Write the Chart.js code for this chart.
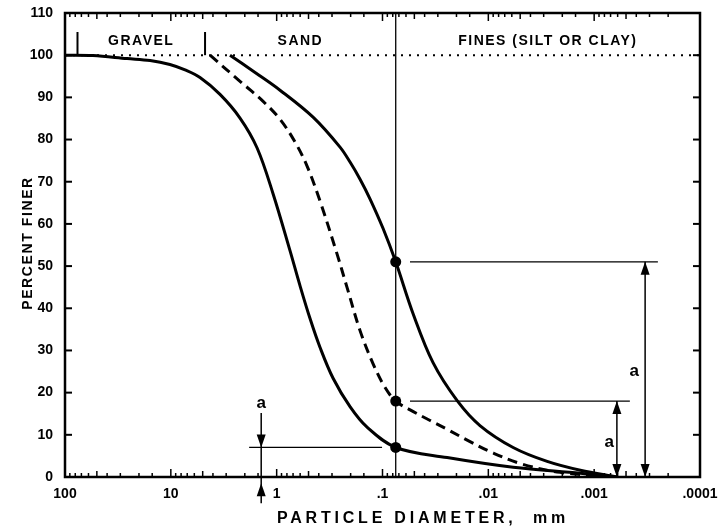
<!DOCTYPE html>
<html>
<head>
<meta charset="utf-8">
<script src="https://cdn.jsdelivr.net/npm/chart.js@4.4.1/dist/chart.umd.min.js"></script>
<style>
  html, body { margin: 0; padding: 0; background: #fff; }
  canvas { display: block; }
</style>
</head>
<body>
<canvas id="chart1" width="720" height="529"></canvas>
<script>
// gradation curves: particle diameter (mm) against percent finer
const coarseDiam = [100, 54.4, 25.9, 15.7, 10.2, 7.34, 5.3, 3.43, 2.22, 1.53, 1.08, 0.747, 0.601, 0.483, 0.389, 0.293, 0.202, 0.14, 0.075, 0.0245, 0.00583, 0.00135, 0.00061];
const coarseFiner = [100, 99.9, 99.2, 98.75, 97.8, 96.5, 94.7, 90.7, 85.1, 78, 67.1, 53.6, 45.3, 37.5, 30.7, 23.4, 16.6, 11.8, 7, 4.6, 2.3, 0.9, 0];
const midDiam = [4.26, 2.22, 1.35, 0.929, 0.67, 0.516, 0.389, 0.269, 0.216, 0.163, 0.123, 0.0945, 0.075, 0.0548, 0.0355, 0.0245, 0.0149, 0.0096, 0.005, 0.0021, 0.00061];
const midFiner = [100, 93.8, 89.1, 84.8, 79.4, 73.7, 65.4, 52.9, 44.9, 34.7, 26.9, 21.2, 18, 15.9, 13.4, 11.3, 8.4, 6, 3.2, 1.1, 0];
const fineDiam = [2.76, 1.6, 0.93, 0.453, 0.252, 0.202, 0.163, 0.131, 0.0987, 0.075, 0.0514, 0.0333, 0.0197, 0.012, 0.00583, 0.00278, 0.00135, 0.00061];
const fineFiner = [100, 95.9, 91.7, 85.3, 78.2, 74.6, 70.6, 65.9, 58.9, 51, 38.7, 27.1, 18.1, 12.2, 7, 3.7, 1.6, 0];

// No. 200 sieve and the percent passing it for each curve
const sieveDiam = 0.075;
const sieveFiner = [51, 18, 7];

const xTickValues = [100, 10, 1, 0.1, 0.01, 0.001, 0.0001];
const xTickLabels = ['100', '10', '1', '.1', '.01', '.001', '.0001'];

// soil bands across the top
const bandNames = ['GRAVEL', 'SAND', 'FINES (SILT OR CLAY)'];
const bandEdges = [76.2, 4.75, 0.075, 0.0001];

// dimension lines marking "a"
const guideFiner = [51, 18, 7];
const guideFrom = [0.055, 0.055, 1.82];
const guideTo = [0.00025, 0.00046, 0.101];
const arrowDiam = [0.00033, 0.00061, 1.4];
const aDiam = [0.000419, 0.000721, 1.4];
const aFiner = [23.9, 7.06, 16.4];

const FONT = 'Arial, "Liberation Sans", sans-serif';
Chart.defaults.font.family = FONT;
Chart.defaults.font.size = 14;
Chart.defaults.font.weight = 'bold';
Chart.defaults.color = '#000';

const pts = (xs, ys) => xs.map((x, i) => ({ x: x, y: ys[i] }));

function thin(data, width, dash) {
  return {
    data: data, showLine: true, pointRadius: 0, borderColor: '#000',
    borderWidth: width, borderDash: dash || [], order: 5
  };
}

function curve(data, dash) {
  return {
    data: data, showLine: true, pointRadius: 0, borderColor: '#000',
    borderWidth: 3, borderDash: dash || [], tension: 0.35, order: 1
  };
}

// keep the plot box fixed, labels may hang outside it
function noPad(s) {
  s.paddingTop = s.paddingBottom = s.paddingLeft = s.paddingRight = 0;
}

const datasets = [
  {
    data: sieveFiner.map(p => ({ x: sieveDiam, y: p })),
    pointRadius: 5.5, pointBackgroundColor: '#000', pointBorderWidth: 0, order: 0
  },
  curve(pts(coarseDiam, coarseFiner)),
  curve(pts(midDiam, midFiner), [10, 6]),
  curve(pts(fineDiam, fineFiner)),
  thin([{ x: sieveDiam, y: 0 }, { x: sieveDiam, y: 110 }], 1.3),
  thin([{ x: 100, y: 100 }, { x: 0.0001, y: 100 }], 2, [2, 6]),
  thin([{ x: bandEdges[0], y: 100 }, { x: bandEdges[0], y: 105.5 }], 2),
  thin([{ x: bandEdges[1], y: 100 }, { x: bandEdges[1], y: 105.5 }], 2)
];
guideFiner.forEach((p, i) => {
  datasets.push(thin([{ x: guideFrom[i], y: p }, { x: guideTo[i], y: p }], 1.3));
});

const overlay = {
  id: 'overlay',
  afterDraw(chart) {
    const ctx = chart.ctx, area = chart.chartArea;
    const xs = chart.scales.x, ys = chart.scales.y;
    const X = v => xs.getPixelForValue(v), Y = v => ys.getPixelForValue(v);
    const line = (x1, y1, x2, y2) => {
      ctx.beginPath(); ctx.moveTo(x1, y1); ctx.lineTo(x2, y2); ctx.stroke();
    };
    const head = (x, tip, dir) => {
      ctx.beginPath();
      ctx.moveTo(x, tip);
      ctx.lineTo(x - 4.5, tip - dir * 13);
      ctx.lineTo(x + 4.5, tip - dir * 13);
      ctx.closePath();
      ctx.fill();
    };
    ctx.save();
    ctx.strokeStyle = '#000';
    ctx.fillStyle = '#000';

    // inward ticks, top and bottom
    ctx.lineWidth = 1.5;
    xs.ticks.forEach(t => {
      const e = Math.floor(Math.log10(t.value) + 1e-9);
      const m = Math.round(t.value / Math.pow(10, e) * 1000) / 1000;
      const len = m === 1 ? 8 : (m === 5 ? 6 : 4);
      const px = X(t.value);
      line(px, area.bottom, px, area.bottom - len);
      line(px, area.top, px, area.top + len);
    });
    ctx.lineWidth = 2;
    ys.ticks.forEach(t => {
      const py = Y(t.value);
      line(area.left, py, area.left + 7, py);
      line(area.right, py, area.right - 7, py);
    });

    ctx.lineWidth = 2.5;
    ctx.strokeRect(area.left, area.top, area.right - area.left, area.bottom - area.top);

    // "a" dimension arrows
    ctx.lineWidth = 1.5;
    for (let i = 0; i < 2; i++) {
      const x = X(arrowDiam[i]);
      line(x, Y(guideFiner[i]), x, Y(0));
      head(x, Y(guideFiner[i]), -1);
      head(x, Y(0), 1);
    }
    const xa = X(arrowDiam[2]);
    line(xa, Y(15.2), xa, Y(-6.2));
    head(xa, Y(guideFiner[2]), 1);
    head(xa, Y(-1.5), -1);

    ctx.textAlign = 'center';
    ctx.textBaseline = 'alphabetic';
    ctx.font = 'bold 17px "Liberation Sans Narrow", ' + FONT;
    aDiam.forEach((d, i) => ctx.fillText('a', X(d), Y(aFiner[i])));

    // band names
    ctx.font = 'bold 14px ' + FONT;
    ctx.letterSpacing = '1.5px';
    bandNames.forEach((name, i) => {
      const mid = Math.sqrt(bandEdges[i] * bandEdges[i + 1]);
      ctx.fillText(name, X(mid), Y(102.5));
    });

    // axis titles
    ctx.letterSpacing = '3.8px';
    ctx.font = 'bold 16px ' + FONT;
    ctx.fillText('PARTICLE DIAMETER,  mm', area.left + 358, area.bottom + 46);

    ctx.letterSpacing = '1.6px';
    ctx.font = 'bold 14px ' + FONT;
    ctx.translate(area.left - 37, (area.top + area.bottom) / 2 - 2);
    ctx.rotate(-Math.PI / 2);
    ctx.textBaseline = 'middle';
    ctx.fillText('PERCENT FINER', 0, 0);
    ctx.restore();
  }
};

new Chart(document.getElementById('chart1'), {
  type: 'scatter',
  data: { datasets: datasets },
  options: {
    responsive: false,
    animation: false,
    devicePixelRatio: 1,
    layout: { autoPadding: false, padding: { top: 13, right: 20, left: 0, bottom: 0 } },
    plugins: { legend: { display: false }, tooltip: { enabled: false } },
    scales: {
      x: {
        type: 'logarithmic',
        reverse: true,
        min: 0.0001,
        max: 100,
        grid: { display: false, drawTicks: false },
        border: { display: false },
        afterFit: s => { s.height = 52; noPad(s); },
        ticks: {
          autoSkip: false,
          maxRotation: 0,
          padding: 9,
          callback: v => {
            const i = xTickValues.findIndex(t => Math.abs(Math.log10(t) - Math.log10(v)) < 1e-6);
            return i >= 0 ? xTickLabels[i] : '';
          }
        }
      },
      y: {
        min: 0,
        max: 110,
        grid: { display: false, drawTicks: false },
        border: { display: false },
        afterFit: s => { s.width = 65; noPad(s); },
        ticks: { stepSize: 10, padding: 12 }
      }
    }
  },
  plugins: [overlay]
});
</script>
</body>
</html>
